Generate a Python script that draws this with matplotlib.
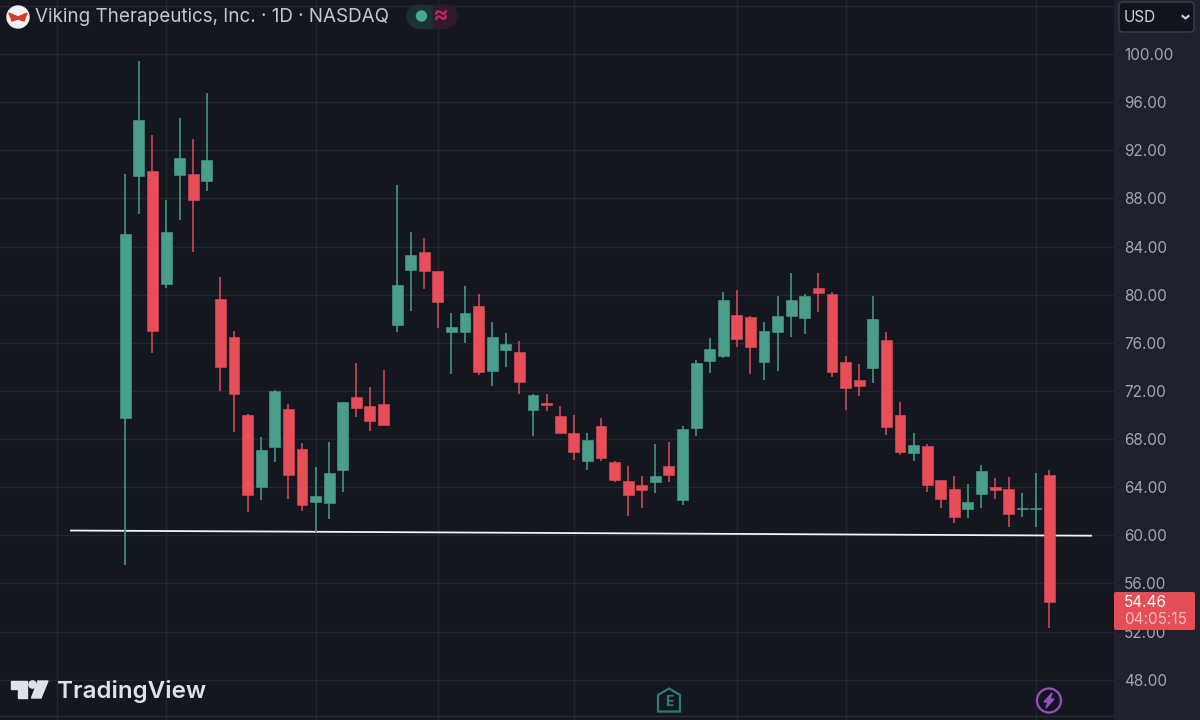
"""Recreate the Viking Therapeutics daily candlestick chart (dark TradingView look)."""

import matplotlib
matplotlib.use("Agg")
import matplotlib.pyplot as plt
from matplotlib.patches import Circle, FancyBboxPatch, Polygon, Rectangle

# Candle values, left to right.
opens = [69.73, 89.87, 90.28, 80.91, 89.98, 90.03, 89.45, 79.64, 76.51, 69.98, 63.99, 67.37,
         70.47, 67.20, 62.77, 62.66, 65.43, 71.50, 70.77, 70.89, 77.46, 82.05, 83.52, 82.00,
         76.92, 76.92, 79.09, 73.66, 75.40, 75.24, 70.44, 71.00, 69.94, 68.48, 66.18, 69.09,
         66.12, 64.54, 64.16, 64.41, 65.74, 62.96, 68.94, 74.46, 74.90, 78.31, 78.15, 74.43,
         76.92, 78.20, 78.09, 80.53, 80.08, 74.38, 72.88, 73.91, 76.23, 69.98, 66.82, 67.42,
         64.60, 63.82, 62.16, 63.43, 63.99, 63.87, 62.23, 62.23, 65.01]
highs = [90.01, 99.45, 93.28, 87.87, 94.69, 92.94, 96.79, 81.47, 76.98, 70.05, 68.20, 72.05,
         70.91, 67.70, 65.65, 67.73, 71.12, 74.35, 72.35, 73.74, 89.12, 85.19, 84.69, 82.00,
         78.45, 80.75, 80.08, 77.73, 76.79, 76.15, 71.78, 71.72, 70.77, 70.00, 68.48, 69.75,
         66.20, 65.79, 64.93, 67.56, 67.78, 69.11, 74.57, 76.40, 80.22, 80.39, 78.20, 77.71,
         79.89, 81.83, 80.03, 81.83, 80.20, 74.93, 74.24, 79.89, 76.90, 71.08, 68.53, 67.59,
         64.60, 64.93, 64.29, 65.87, 64.79, 64.87, 63.49, 65.15, 65.43]
lows = [57.53, 86.71, 75.15, 80.56, 86.21, 83.57, 88.64, 72.02, 68.61, 61.91, 62.93, 66.07,
        63.02, 62.00, 60.30, 61.38, 63.62, 69.81, 68.70, 69.14, 76.92, 78.67, 80.50, 77.26,
        73.41, 76.01, 73.30, 72.41, 74.02, 71.77, 68.28, 70.36, 68.47, 66.23, 65.45, 66.20,
        64.47, 61.63, 62.27, 63.49, 64.41, 62.54, 68.23, 73.47, 74.76, 75.63, 73.41, 72.88,
        73.68, 76.51, 76.73, 78.59, 73.18, 70.42, 71.58, 72.68, 68.36, 66.70, 66.18, 63.62,
        62.24, 61.05, 61.41, 62.29, 62.99, 60.67, 61.50, 60.71, 52.27]
closes = [85.07, 94.52, 76.98, 85.21, 91.36, 87.87, 91.20, 73.99, 71.72, 63.37, 67.09, 71.97,
          65.01, 62.49, 63.29, 65.15, 71.06, 70.56, 69.53, 69.14, 80.81, 83.32, 81.95, 79.42,
          77.34, 78.45, 73.60, 76.46, 75.90, 72.77, 71.66, 70.87, 68.53, 66.90, 67.92, 66.40,
          64.60, 63.37, 63.77, 64.90, 65.01, 68.84, 74.32, 75.46, 79.58, 76.34, 75.68, 76.98,
          78.23, 79.58, 79.89, 80.14, 73.60, 72.27, 72.41, 77.98, 69.00, 66.95, 67.51, 64.18,
          62.99, 61.52, 62.74, 65.37, 63.74, 61.75, 62.31, 62.31, 54.46]

price_ticks = [48, 52, 56, 60, 64, 68, 72, 76, 80, 84, 88, 92, 96, 100]
grid_prices = price_ticks + [104]
grid_candles = [-5, 3, 14, 23, 33, 45, 53, 67]

# Hand-drawn support line: candle position and price at both ends.
support_x = [-4, 71.06]
support_y = [60.40, 59.97]

BG = "#141620"
PANEL = "#1f212c"
GRID = "#23252f"
GREEN = "#4a9f8c"
GREEN_WICK = "#43917f"
RED = "#e74e57"
RED_WICK = "#c8454f"
FONT = ["Inter", "DejaVu Sans"]


def draw_candles(ax):
    xs = list(range(len(opens)))
    rising = [c >= o for o, c in zip(opens, closes)]
    body_colors = [GREEN if up else RED for up in rising]
    wick_colors = [GREEN_WICK if up else RED_WICK for up in rising]
    bottoms = [min(o, c) for o, c in zip(opens, closes)]
    heights = [abs(c - o) for o, c in zip(opens, closes)]

    ax.vlines(xs, lows, highs, colors=wick_colors, linewidth=1.25, zorder=3)
    ax.bar(xs, heights, bottom=bottoms, width=0.8, color=body_colors,
           edgecolor=body_colors, linewidth=0.4, zorder=4)


def draw_overlay(fig):
    # Interface pieces are placed in plain pixel coordinates.
    over = fig.add_axes([0, 0, 1, 1], facecolor="none")
    over.set_xlim(0, 1200)
    over.set_ylim(720, 0)
    over.axis("off")

    over.plot([0, 1114], [715.5, 715.5], color="#2a2c37", linewidth=1)

    # Header with logo, title and status pill
    over.add_patch(Circle((18, 17), 11, color="#f1f1f3"))
    over.add_patch(Polygon([(9, 13), (18, 17), (27, 13), (24, 21), (18, 19), (12, 21)], color="#d23a2e"))
    over.text(35, 17, "Viking Therapeutics, Inc. · 1D · NASDAQ", family=FONT, fontsize=13.55,
              color="#c4c7d1", va="center", ha="left")
    over.add_patch(Circle((418.5, 16.5), 11.5, color="#1a3235"))
    over.add_patch(Circle((445.5, 16.5), 11.5, color="#301a2a"))
    over.add_patch(Rectangle((418.5, 5), 14, 23, color="#1a3235"))
    over.add_patch(Rectangle((432.5, 5), 13, 23, color="#301a2a"))
    over.add_patch(Circle((421.5, 16), 5, color="#46a98f"))
    over.text(440, 15.5, "≈", family=FONT, fontsize=17, fontweight="bold", color="#b32a55",
              ha="center", va="center")

    # Currency selector
    over.add_patch(FancyBboxPatch((1119, 2), 75, 30, boxstyle="round,pad=0,rounding_size=4",
                                  facecolor="#12141d", edgecolor="#3a3d49", linewidth=1))
    over.text(1124, 17, "USD", family=FONT, fontsize=11, color="#d0d3dc", va="center", ha="left")
    over.plot([1182.5, 1185.5, 1188.5], [16, 18.5, 16], color="#d0d3dc", linewidth=1.5)

    # Last price tag
    over.add_patch(FancyBboxPatch((1114, 592), 81, 38, boxstyle="round,pad=0,rounding_size=2",
                                  facecolor="#e54e56", edgecolor="none"))
    over.text(1124, 602.5, "54.46", family=FONT, fontsize=11, color="#ffffff", va="center", ha="left")
    over.text(1124, 620, "04:05:15", family=FONT, fontsize=11, color="#f6bcc0", va="center", ha="left")

    # TradingView mark
    over.add_patch(Polygon([(11, 681), (27, 681), (27, 698), (18, 698), (18, 689), (11, 689)], color="#dfe1e7"))
    over.add_patch(Circle((32.5, 684.5), 3.6, color="#dfe1e7"))
    over.add_patch(Polygon([(38, 681), (48, 681), (41, 698), (31.5, 698)], color="#dfe1e7"))
    over.text(57, 698, "TradingView", family=FONT, fontsize=17.4, fontweight="semibold",
              color="#dfe1e7", va="baseline", ha="left")

    # Earnings badge
    over.add_patch(Polygon([(658, 711.5), (658, 695), (669, 688.5), (680, 695), (680, 711.5)],
                           closed=True, facecolor=BG, edgecolor="#2c7d70", linewidth=1.6))
    over.text(669, 701.5, "E", family=FONT, fontsize=10, fontweight="bold", color="#2c7d70",
              ha="center", va="center")

    # Lightning badge
    over.add_patch(Circle((1049, 700.5), 12, facecolor=BG, edgecolor="#9a4fc0", linewidth=1.6))
    over.add_patch(Polygon([(1052, 693), (1044, 702), (1048, 702), (1046, 708), (1054, 699), (1050, 699)],
                           color="#9a4fc0"))


def main():
    fig = plt.figure(figsize=(12, 7.2), dpi=100, facecolor=PANEL)
    ax = fig.add_axes([0, 0, 1114 / 1200, 1], facecolor=BG)

    # Scale chosen so that 100.00 sits at y=54 px and 48.00 at y=680 px.
    ax.set_ylim(44.65, 104.5)
    ax.set_xlim(-9.22, 72.75)

    for price in grid_prices:
        ax.axhline(price, color=GRID, linewidth=1, zorder=1)
    for pos in grid_candles:
        ax.axvline(pos, color=GRID, linewidth=1, zorder=1)

    ax.plot(support_x, support_y, color="#f2f2f2", linewidth=1.3, zorder=2)
    draw_candles(ax)

    ax.set_xticks([])
    ax.yaxis.tick_right()
    ax.set_yticks(price_ticks)
    ax.set_yticklabels([f"{p:.2f}" for p in price_ticks], family=FONT, fontsize=11, color="#a3a6b0")
    ax.tick_params(axis="y", length=0, pad=7.2)
    for spine in ax.spines.values():
        spine.set_visible(False)

    draw_overlay(fig)

    fig.savefig("out.png", dpi=100, facecolor=fig.get_facecolor())
    plt.close(fig)


if __name__ == "__main__":
    main()
